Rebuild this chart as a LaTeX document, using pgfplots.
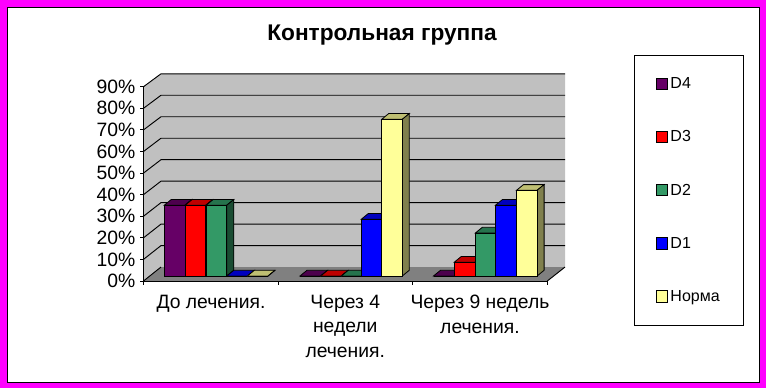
\documentclass[border=0pt]{standalone}
\usepackage{pgfplots}
\pgfplotsset{compat=1.18}
\usepackage{fontspec}
\setmainfont{Liberation Sans}
% colours
\definecolor{cD4}{HTML}{660066}\definecolor{tD4}{HTML}{4D004D}\definecolor{sD4}{HTML}{330033}
\definecolor{cD3}{HTML}{FF0000}\definecolor{tD3}{HTML}{BF0000}\definecolor{sD3}{HTML}{800000}
\definecolor{cD2}{HTML}{339966}\definecolor{tD2}{HTML}{26734D}\definecolor{sD2}{HTML}{1A4D33}
\definecolor{cD1}{HTML}{0000FF}\definecolor{tD1}{HTML}{0000BF}\definecolor{sD1}{HTML}{000080}
\definecolor{cN}{HTML}{FFFF99}\definecolor{tN}{HTML}{BFBF73}\definecolor{sN}{HTML}{80804D}
\definecolor{wall}{HTML}{C0C0C0}\definecolor{floorc}{HTML}{808080}
% x0 (left edge, px), value (%), series suffix
\newcommand\threedbar[3]{%
  \pgfmathsetmacro\xc{#1+10.3}%
  \pgfmathsetmacro\xr{#1+20.6}%
  \pgfmathsetmacro\xs{#1+7}%
  \pgfmathsetmacro\xe{#1+27.6}%
  \pgfmathsetmacro\yt{#2+2.64}%
  \addplot[forget plot,fill=t#3,draw=black,line width=.6pt] coordinates {(#1,#2)(\xs,\yt)(\xe,\yt)(\xr,#2)} -- cycle;
  \addplot[forget plot,fill=s#3,draw=black,line width=.6pt] coordinates {(\xr,0)(\xe,2.64)(\xe,\yt)(\xr,#2)} -- cycle;
  \addplot[forget plot,ybar,bar width=20.6,fill=c#3,draw=black,line width=.6pt] coordinates {(\xc,#2)};
}
\pgfplotsset{
  chartbox/.style={
    at={(107.625pt,80.25pt)},anchor=south west,scale only axis,
    width=302.85pt,height=145.7pt,
    xmin=143.5,xmax=547.3,clip=false},
}
\begin{document}
\begin{tikzpicture}
\fill[fill={rgb,255:red,255;green,0;blue,255}] (0,0) rectangle (574.5pt,291pt);
\fill[black] (5.25pt,4pt) rectangle (570pt,285.75pt);
\fill[white] (6pt,4.75pt) rectangle (569.25pt,285pt);
\begin{axis}[chartbox,
  ymin=0,ymax=90,
  axis lines=left,axis line style={-,line width=.7pt},
  axis on top=true,
  ytick={0,10,...,90},
  yticklabels={0\%,10\%,20\%,30\%,40\%,50\%,60\%,70\%,80\%,90\%},
  yticklabel style={font=\fontsize{14.5}{16}\selectfont,inner sep=1pt,xshift=-2.5pt},
  xtick={211,345.3,480},
  xticklabels={{До лечения.},{Через 4\\недели\\лечения.},{Через 9 недель\\лечения.}},
  xticklabel style={font=\fontsize{14.5}{18.4}\selectfont,align=center,anchor=north,yshift=-4.5pt},
  minor xtick={143.5,278.3,412.3,547.3},
  major x tick style={draw=none},
  minor x tick style={black,line width=.7pt},
  y tick style={black,line width=.7pt},
  tick align=outside,major tick length=2.5pt,minor tick length=3pt,
  title={Контрольная группа},
  title style={at={(axis description cs:0.5906,1.225)},anchor=center,font=\fontsize{17}{20}\bfseries\selectfont},
]
\addplot[forget plot,fill=wall,draw=none] coordinates {(143.5,0)(161,6.46)(565,6.46)(565,96)(161,96)(143.5,90)} -- cycle;
\addplot[forget plot,fill=floorc,draw=none] coordinates {(143.5,0)(161,6.46)(565,6.46)(547.3,0)} -- cycle;
\addplot[forget plot,black,line width=.7pt] coordinates {(143.5,0)(161,6.46)};
\addplot[forget plot,black,line width=.7pt] coordinates {(547.3,0)(565,6.46)};
\addplot[forget plot,black,line width=.7pt] coordinates {(143.5,10)(161,16.41)(565,16.41)};
\addplot[forget plot,black,line width=.7pt] coordinates {(143.5,20)(161,26.36)(565,26.36)};
\addplot[forget plot,black,line width=.7pt] coordinates {(143.5,30)(161,36.31)(565,36.31)};
\addplot[forget plot,black,line width=.7pt] coordinates {(143.5,40)(161,46.26)(565,46.26)};
\addplot[forget plot,black,line width=.7pt] coordinates {(143.5,50)(161,56.2)(565,56.2)};
\addplot[forget plot,black,line width=.7pt] coordinates {(143.5,60)(161,66.15)(565,66.15)};
\addplot[forget plot,black,line width=.7pt] coordinates {(143.5,70)(161,76.1)(565,76.1)};
\addplot[forget plot,black,line width=.7pt] coordinates {(143.5,80)(161,86.05)(565,86.05)};
\addplot[forget plot,black,line width=.7pt] coordinates {(143.5,90)(161,96)(565,96)};
\end{axis}
\begin{axis}[chartbox,
  ymin=-2.32,ymax=87.68,hide axis,
  legend cell align=left,
  legend style={at={(axis description cs:1.2155,1.1616)},anchor=north west,
    draw=black,line width=.6pt,font=\fontsize{12}{14}\selectfont,
    inner xsep=15.7pt,inner ysep=14.5pt,
    /tikz/row sep=26pt,/tikz/column sep=0pt},
  legend image code/.code={\draw[#1] (0.7pt,-4pt) rectangle (9.2pt,4.5pt);},
]
\addlegendimage{fill=cD4,draw=black,line width=.6pt}\addlegendentry{D4}
\addlegendimage{fill=cD3,draw=black,line width=.6pt}\addlegendentry{D3}
\addlegendimage{fill=cD2,draw=black,line width=.6pt}\addlegendentry{D2}
\addlegendimage{fill=cD1,draw=black,line width=.6pt}\addlegendentry{D1}
\addlegendimage{fill=cN,draw=black,line width=.6pt}\addlegendentry{Норма}
% До лечения.
\threedbar{164.3}{32.8}{D4}
\threedbar{185.2}{32.8}{D3}
\threedbar{206.2}{32.8}{D2}
\threedbar{226.8}{0}{D1}
\threedbar{247.4}{0}{N}
% Через 4 недели лечения.
\threedbar{300}{0}{D4}
\threedbar{320.7}{0}{D3}
\threedbar{341.3}{0}{D2}
\threedbar{361.3}{26.3}{D1}
\threedbar{381.7}{72.6}{N}
% Через 9 недель лечения.
\threedbar{433.5}{0}{D4}
\threedbar{454.3}{6.4}{D3}
\threedbar{475.3}{19.9}{D2}
\threedbar{495.5}{32.8}{D1}
\threedbar{516.5}{39.7}{N}
\end{axis}
\end{tikzpicture}
\end{document}
